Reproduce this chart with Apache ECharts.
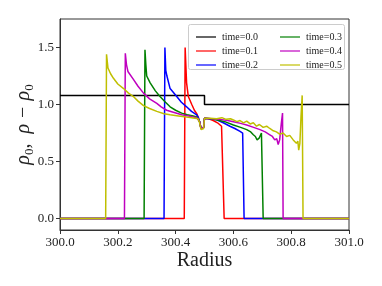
<!DOCTYPE html>
<html>
<head>
<meta charset="utf-8">
<script src="https://cdn.jsdelivr.net/npm/echarts@6/dist/echarts.min.js"></script>
<style>html,body{margin:0;padding:0;background:#fff}#c{width:382px;height:286px}</style>
</head>
<body>
<div id="c"></div>
<script>
const seriesNames = ['time=0.0','time=0.1','time=0.2','time=0.3','time=0.4','time=0.5'];
const xTicks = [300.0, 300.2, 300.4, 300.6, 300.8, 301.0];
const yTicks = [0, 0.5, 1.0, 1.5];

const radius0 = [300, 300.5, 300.5, 301];
const rho0 = [1.08, 1.08, 1.0, 1.0];

const radius1 = [300, 300.43, 300.433, 300.438, 300.444, 300.456, 300.465, 300.473, 300.478, 300.483, 300.488, 300.493, 300.497, 300.5, 300.515, 300.53, 300.545, 300.559, 300.565, 300.568, 301];
const rho1 = [0, 0, 1.5, 1.19, 1.07, 1.0, 0.95, 0.92, 0.89, 0.85, 0.79, 0.78, 0.8, 0.88, 0.875, 0.86, 0.84, 0.81, 0.81, 0, 0];

const radius2 = [300, 300.36, 300.363, 300.366, 300.37, 300.381, 300.404, 300.42, 300.438, 300.455, 300.473, 300.478, 300.483, 300.488, 300.493, 300.497, 300.5, 300.52, 300.542, 300.565, 300.588, 300.605, 300.623, 300.632, 300.637, 301];
const rho2 = [0, 0, 1.5, 1.3, 1.25, 1.14, 1.07, 1.02, 0.98, 0.94, 0.91, 0.89, 0.85, 0.79, 0.78, 0.8, 0.88, 0.875, 0.867, 0.84, 0.81, 0.79, 0.765, 0.75, 0, 0];

const radius3 = [300, 300.291, 300.294, 300.297, 300.3, 300.312, 300.33, 300.346, 300.365, 300.381, 300.4, 300.421, 300.44, 300.461, 300.473, 300.478, 300.483, 300.488, 300.493, 300.497, 300.5, 300.52, 300.542, 300.57, 300.6, 300.625, 300.646, 300.66, 300.669, 300.676, 300.682, 300.689, 300.697, 300.7, 300.703, 301];
const rho3 = [0, 0, 1.48, 1.35, 1.25, 1.19, 1.12, 1.07, 1.02, 0.98, 0.95, 0.925, 0.91, 0.9, 0.89, 0.88, 0.85, 0.79, 0.78, 0.8, 0.88, 0.875, 0.867, 0.85, 0.82, 0.8, 0.78, 0.76, 0.735, 0.72, 0.69, 0.705, 0.75, 0.75, 0, 0];

const radius4 = [300, 300.223, 300.226, 300.23, 300.235, 300.254, 300.27, 300.289, 300.31, 300.335, 300.35, 300.369, 300.395, 300.421, 300.445, 300.461, 300.473, 300.478, 300.483, 300.488, 300.493, 300.497, 300.5, 300.525, 300.553, 300.58, 300.6, 300.625, 300.646, 300.67, 300.692, 300.71, 300.726, 300.735, 300.743, 300.75, 300.755, 300.76, 300.766, 300.77, 300.772, 301];
const rho4 = [0, 0, 1.45, 1.35, 1.29, 1.22, 1.16, 1.1, 1.05, 1.01, 0.98, 0.95, 0.93, 0.91, 0.9, 0.89, 0.885, 0.88, 0.85, 0.79, 0.78, 0.8, 0.88, 0.875, 0.87, 0.86, 0.85, 0.835, 0.82, 0.8, 0.78, 0.76, 0.735, 0.72, 0.69, 0.70, 0.65, 0.69, 0.84, 0.925, 0, 0];

const radius5 = [300, 300.158, 300.161, 300.166, 300.175, 300.185, 300.2, 300.22, 300.237, 300.254, 300.27, 300.289, 300.31, 300.335, 300.36, 300.381, 300.41, 300.438, 300.467, 300.478, 300.483, 300.488, 300.493, 300.497, 300.5, 300.52, 300.542, 300.56, 300.575, 300.59, 300.6, 300.612, 300.623, 300.635, 300.646, 300.658, 300.669, 300.68, 300.69, 300.703, 300.715, 300.726, 300.738, 300.749, 300.76, 300.772, 300.784, 300.795, 300.807, 300.813, 300.818, 300.823, 300.826, 300.83, 300.834, 300.838, 300.841, 301];
const rho5 = [0, 0, 1.44, 1.32, 1.27, 1.23, 1.18, 1.14, 1.1, 1.07, 1.03, 0.99, 0.965, 0.94, 0.92, 0.91, 0.9, 0.89, 0.88, 0.875, 0.84, 0.78, 0.77, 0.79, 0.88, 0.88, 0.875, 0.885, 0.87, 0.875, 0.865, 0.85, 0.86, 0.84, 0.855, 0.83, 0.84, 0.81, 0.825, 0.8, 0.81, 0.79, 0.77, 0.76, 0.74, 0.75, 0.72, 0.73, 0.69, 0.70, 0.66, 0.68, 0.6, 0.66, 0.9, 1.08, 0, 0];

const radii = [radius0, radius1, radius2, radius3, radius4, radius5];
const rhos = [rho0, rho1, rho2, rho3, rho4, rho5];
const colors = ['#000000', '#ff0000', '#0000ff', '#008000', '#bf00bf', '#bfbf00'];

const serif = '"Liberation Serif", "DejaVu Serif", serif';

const series = seriesNames.map((name, i) => ({
  name: name,
  type: 'line',
  data: radii[i].map((x, k) => [x, rhos[i][k]]),
  showSymbol: false,
  symbol: 'none',
  animation: false,
  lineStyle: { color: colors[i], width: 1.5 },
  itemStyle: { color: colors[i] },
  z: 2
}));

const legendCommon = {
  orient: 'vertical',
  itemWidth: 20,
  itemHeight: 10,
  itemGap: 4,
  z: 10,
  textStyle: { fontFamily: serif, fontSize: 10, color: '#222', padding: [0, 0, 0, 1] },
  icon: 'path://M0,4.4 L20,4.4 L20,5.6 L0,5.6 Z'
};

const chart = echarts.init(document.getElementById('c'), null, { renderer: 'canvas' });
chart.setOption({
  animation: false,
  backgroundColor: '#fff',
  grid: { left: 60, right: 33, top: 19, bottom: 56, show: true, borderColor: '#333', borderWidth: 1, backgroundColor: 'transparent', containLabel: false, outerBoundsMode: 'none' },
  xAxis: {
    type: 'value', min: 300, max: 301, interval: 0.2,
    name: 'Radius', nameLocation: 'middle', nameGap: 21, nameMoveOverlap: false,
    nameTextStyle: { fontFamily: serif, fontSize: 20, color: '#222' },
    axisLine: { show: true, onZero: false, lineStyle: { color: '#333', width: 1 } },
    axisTick: { show: true, inside: false, length: 4, lineStyle: { color: '#333' } },
    axisLabel: { fontFamily: serif, fontSize: 13, color: '#222', margin: 6, formatter: v => v.toFixed(1), showMinLabel: true, showMaxLabel: true },
    splitLine: { show: false }
  },
  yAxis: {
    type: 'value', min: -0.1, max: 1.75,
    name: '{i|ρ}{s|0}{i|,  ρ − ρ}{s|0}', nameLocation: 'middle', nameGap: 24, nameRotate: 90, nameMoveOverlap: false,
    nameTextStyle: {
      rich: {
        i: { fontFamily: serif, fontStyle: 'italic', fontSize: 20, color: '#222', lineHeight: 24 },
        s: { fontFamily: serif, fontSize: 13, color: '#222', lineHeight: 24, verticalAlign: 'bottom', padding: [8, 0, 0, 0] }
      }
    },
    axisLine: { show: true, onZero: false, lineStyle: { color: '#333', width: 1 } },
    axisTick: { show: true, inside: false, length: 4, lineStyle: { color: '#333' }, customValues: yTicks },
    axisLabel: { fontFamily: serif, fontSize: 13, color: '#222', margin: 6, customValues: yTicks, formatter: v => v.toFixed(1) },
    splitLine: { show: false }
  },
  legend: [
    Object.assign({ left: 191, top: 27, data: seriesNames.slice(0, 3) }, legendCommon),
    Object.assign({ left: 275, top: 27, data: seriesNames.slice(3, 6) }, legendCommon)
  ],
  graphic: {
    z: 5,
    elements: [{
      type: 'rect', left: 188, top: 24, silent: true,
      shape: { width: 156, height: 45, r: 2 },
      style: { fill: 'rgba(255,255,255,0.8)', stroke: '#cccccc', lineWidth: 1 }
    }]
  },
  series: series
});
</script>
</body>
</html>
